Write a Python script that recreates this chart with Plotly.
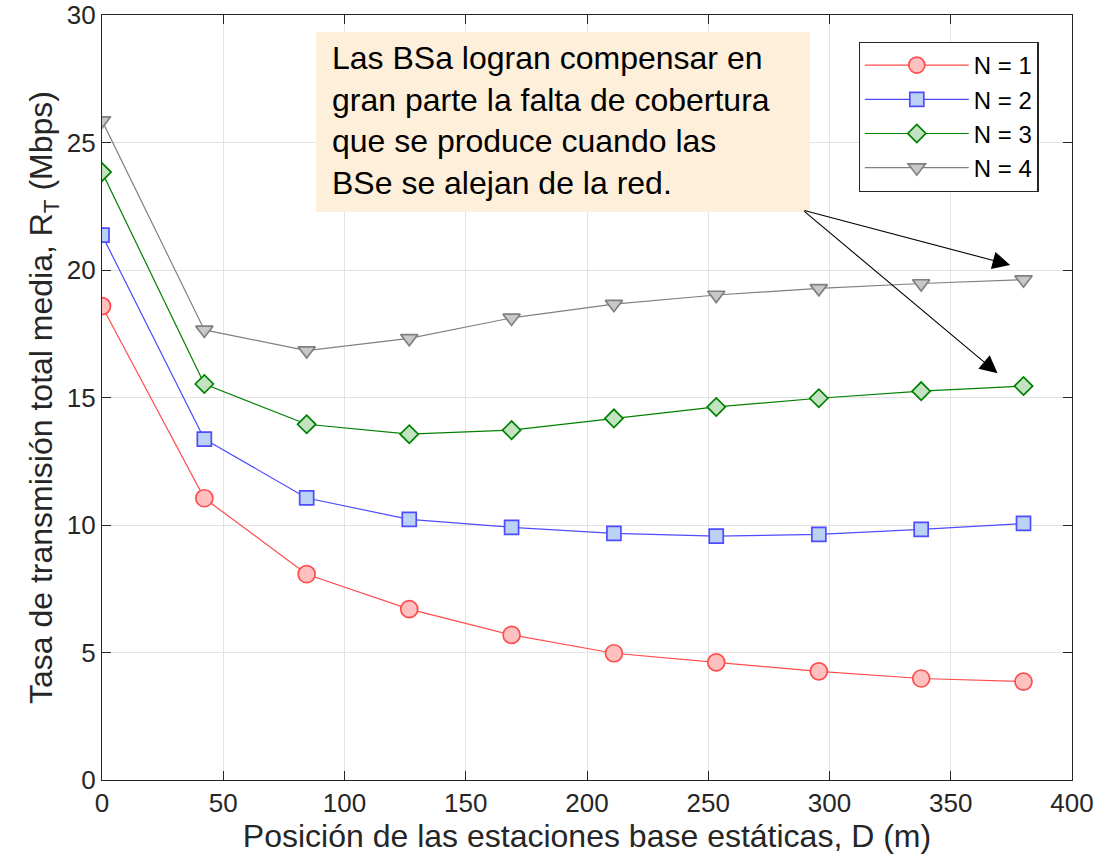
import plotly.graph_objects as go

# Posición de las estaciones base estáticas (m)
D = [0, 42.2, 84.4, 126.7, 168.9, 211.1, 253.3, 295.6, 337.8, 380]

# Tasa de transmisión total media (Mbps) para cada N
rt_n1 = [18.58, 11.05, 8.07, 6.70, 5.69, 4.97, 4.61, 4.26, 3.98, 3.86]
rt_n2 = [21.37, 13.37, 11.06, 10.22, 9.91, 9.67, 9.56, 9.63, 9.83, 10.06]
rt_n3 = [23.84, 15.53, 13.95, 13.56, 13.72, 14.18, 14.63, 14.97, 15.25, 15.45]
rt_n4 = [25.86, 17.65, 16.84, 17.32, 18.12, 18.66, 19.02, 19.28, 19.47, 19.62]

series_names = ["N = 1", "N = 2", "N = 3", "N = 4"]
series_values = [rt_n1, rt_n2, rt_n3, rt_n4]

x_ticks = [0, 50, 100, 150, 200, 250, 300, 350, 400]
y_ticks = [0, 5, 10, 15, 20, 25, 30]

styles = [
    dict(line="#ff4d4d", fill="#ffc0c0", symbol="circle", size=17),
    dict(line="#4d4dff", fill="#bcd2f5", symbol="square", size=14),
    dict(line="#008000", fill="#c2e2c2", symbol="diamond", size=14),
    dict(line="#808080", fill="#c8c8c8", symbol="triangle-down", size=15),
]

FONT = "Liberation Sans, Arial, Helvetica, sans-serif"
TXT = "#262626"

fig = go.Figure()
for name, vals, st in zip(series_names, series_values, styles):
    fig.add_trace(go.Scatter(
        x=D, y=vals, name=name, mode="lines+markers",
        line=dict(color=st["line"], width=1.2),
        marker=dict(symbol=st["symbol"], size=st["size"],
                    color=st["fill"], line=dict(color=st["line"], width=1.7)),
    ))

# Fondo del cuadro de texto
fig.add_shape(
    type="rect", xref="x", yref="y", x0=88.2, x1=292.0, y0=22.27, y1=29.33,
    fillcolor="#fdefda", line=dict(width=0), layer="above",
)
# Texto del cuadro
fig.add_annotation(
    x=94.0, y=25.85, xref="x", yref="y", xanchor="left", yanchor="middle",
    text=("Las BSa logran compensar en<br>gran parte la falta de cobertura<br>"
          "que se produce cuando las<br>BSe se alejan de la red."),
    align="left", showarrow=False,
    font=dict(family=FONT, size=32, color="black"),
)

# Flechas hacia los últimos puntos de N = 4 y N = 3
for hx, hy in [(374.5, 20.2), (369.3, 15.95)]:
    fig.add_annotation(
        x=hx, y=hy, ax=289.0, ay=22.35, xref="x", yref="y", axref="x", ayref="y",
        showarrow=True, arrowhead=2, arrowsize=3.2, arrowwidth=1.1,
        arrowcolor="black", text="",
    )

fig.update_xaxes(
    range=[0, 400], tickvals=x_ticks, ticks="inside", ticklen=9, tickcolor=TXT,
    showline=True, linecolor=TXT, linewidth=1.3, mirror="ticks",
    showgrid=True, gridcolor="#e3e3e3", gridwidth=1, zeroline=False,
    automargin=False,
    tickfont=dict(family=FONT, size=26, color=TXT),
    title=dict(text="Posición de las estaciones base estáticas, D (m)",
               font=dict(family=FONT, size=32, color=TXT), standoff=5),
)
fig.update_yaxes(
    range=[0, 30], tickvals=y_ticks, ticks="inside", ticklen=9, tickcolor=TXT,
    showline=True, linecolor=TXT, linewidth=1.3, mirror="ticks",
    showgrid=True, gridcolor="#e3e3e3", gridwidth=1, zeroline=False,
    automargin=False,
    tickfont=dict(family=FONT, size=26, color=TXT),
    title=dict(text="Tasa de transmisión total media, R<sub>T</sub> (Mbps)",
               font=dict(family=FONT, size=32, color=TXT), standoff=4),
)

fig.update_layout(
    width=1094, height=864,
    margin=dict(l=102, r=22, t=15, b=84),
    paper_bgcolor="white", plot_bgcolor="white",
    showlegend=True,
    legend=dict(
        x=0.780, y=0.965, xanchor="left", yanchor="top",
        bgcolor="white", bordercolor=TXT, borderwidth=1.2,
        font=dict(family=FONT, size=24, color="black"),
        itemwidth=104, tracegroupgap=0,
    ),
)

fig.write_html("out.html")
